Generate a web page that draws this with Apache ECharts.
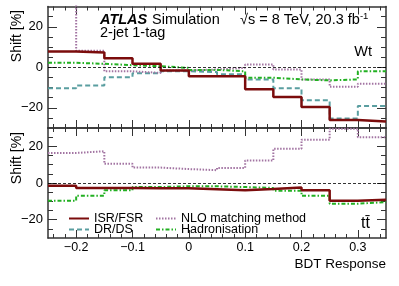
<!DOCTYPE html>
<html><head><meta charset="utf-8">
<script src="https://cdn.jsdelivr.net/npm/echarts@6/dist/echarts.min.js"></script>
<style>html,body{margin:0;padding:0;background:#fff}#c{width:399px;height:286px}</style>
</head><body><div id="c"></div>
<script>
// ---- data ----
const binEdges = [-0.25,-0.2,-0.15,-0.1,-0.05,0,0.05,0.1,0.15,0.2,0.25,0.3];
const xMax = 0.35;
// Wt panel
const wtISR  = [7.8, 7.3, 4.4, 1.7, -1.6, -4.4, -4.4, -10.9, -14.7, -19.6, -26.0, -26.8];
const wtDRDS = [-10.4, -9.0, -4.9, -3.0, -2.0, -2.4, -3.4, -6.0, -10.4, -16.3, -25.3, -19.1];
const wtNLO  = [45, 8.2, -2.0, -2.8, -1.6, -1.1, -0.3, 1.3, -1.1, -6.0, -9.6, -8.1];
const wtHad  = [2.2, 1.7, 1.0, 0.5, -0.3, -1.3, -2.0, -5.2, -6.0, -6.5, -6.0, -2.0];
// ttbar panel
const ttISR  = [-1.5, -2.7, -2.7, -2.9, -2.9, -3.4, -4.0, -3.3, -2.4, -4.0, -9.7, -9.1];
const ttNLO  = [16.4, 17.3, 10.5, 8.4, 7.6, 7.0, 8.2, 12.3, 18.7, 23.6, 29.6, 25.0];
const ttHad  = [-9.7, -6.9, -4.0, -2.2, -1.8, -1.8, -2.2, -2.7, -4.2, -6.9, -11.3, -10.4];
// ticks
const xMajorTicks = [-0.2, -0.1, 0, 0.1, 0.2, 0.3];
const xMinorTicks = [-0.24,-0.22,-0.18,-0.16,-0.14,-0.12,-0.08,-0.06,-0.04,-0.02,0.02,0.04,0.06,0.08,0.12,0.14,0.16,0.18,0.22,0.24,0.26,0.28,0.32,0.34];
const yMajorTicks = [-20, 0, 20];
const yMinorTicks = [-25, -15, -10, -5, 5, 10, 15, 25];

// ---- helpers ----
const FONT = 'Liberation Sans, Arial, Helvetica, sans-serif';
const AX = '#333';
const fmt = v => (v < 0 ? '\u2212' : '') + String(Math.abs(+v.toFixed(2)));
function steps(vals) {
  const d = binEdges.map((x, i) => [x, vals[i]]);
  d.push([xMax, vals[vals.length - 1]]);
  return d;
}
function xAxesFor(g, labels) {
  const base = {type:'value', gridIndex:g, min:-0.25, max:0.35, splitLine:{show:false}};
  return [
    Object.assign({}, base, {position:'bottom', axisLine:{show:true, onZero:false, lineStyle:{color:AX, width:1.5}},
      axisTick:{show:true, inside:true, length:8, customValues:xMajorTicks, lineStyle:{color:AX}},
      axisLabel:{show:labels, customValues:xMajorTicks, formatter:fmt, margin:3, fontSize:12.5, color:'#000', fontFamily:FONT}}),
    Object.assign({}, base, {position:'bottom', axisLine:{show:false, onZero:false},
      axisTick:{show:true, inside:true, length:4, customValues:xMinorTicks, lineStyle:{color:AX}}, axisLabel:{show:false}}),
    Object.assign({}, base, {position:'top', axisLine:{show:true, onZero:false, lineStyle:{color:AX, width:1.5}},
      axisTick:{show:true, inside:true, length:8, customValues:xMajorTicks, lineStyle:{color:AX}}, axisLabel:{show:false}}),
    Object.assign({}, base, {position:'top', axisLine:{show:false, onZero:false},
      axisTick:{show:true, inside:true, length:4, customValues:xMinorTicks, lineStyle:{color:AX}}, axisLabel:{show:false}})
  ];
}
function yAxesFor(g) {
  const base = {type:'value', gridIndex:g, min:-30, max:30, splitLine:{show:false}};
  return [
    Object.assign({}, base, {position:'left', axisLine:{show:true, onZero:false, lineStyle:{color:AX, width:1.5}},
      axisTick:{show:true, inside:true, length:9, customValues:yMajorTicks, lineStyle:{color:AX}},
      axisLabel:{show:true, customValues:yMajorTicks, formatter:fmt, margin:5, fontSize:13, color:'#000', fontFamily:FONT}}),
    Object.assign({}, base, {position:'left', axisLine:{show:false, onZero:false},
      axisTick:{show:true, inside:true, length:5, customValues:yMinorTicks, lineStyle:{color:AX}}, axisLabel:{show:false}}),
    Object.assign({}, base, {position:'right', axisLine:{show:true, onZero:false, lineStyle:{color:AX, width:1.5}},
      axisTick:{show:true, inside:true, length:9, customValues:yMajorTicks, lineStyle:{color:AX}}, axisLabel:{show:false}}),
    Object.assign({}, base, {position:'right', axisLine:{show:false, onZero:false},
      axisTick:{show:true, inside:true, length:5, customValues:yMinorTicks, lineStyle:{color:AX}}, axisLabel:{show:false}})
  ];
}
const styles = {
  'ISR/FSR': {color:'#7b0c0c', width:2.5, type:'solid'},
  'DR/DS': {color:'#5a9ea0', width:2, type:[5,3]},
  'NLO matching method': {color:'#a274a2', width:2, type:[1.5,1.5]},
  'Hadronisation': {color:'#22b022', width:2, type:[4,2,1.5,2]}
};
function mkSeries(name, vals, axIdx, zeroLine) {
  const st = styles[name];
  const s = {
    name, type:'line', step:'end', symbol:'none', showSymbol:false, clip:true, silent:true,
    xAxisIndex:axIdx, yAxisIndex:axIdx, data:steps(vals),
    itemStyle:{color:st.color}, lineStyle:{color:st.color, width:st.width, type:st.type}
  };
  if (zeroLine) {
    s.markLine = {silent:true, symbol:'none', label:{show:false},
      lineStyle:{color:'#000', width:0.8, type:[3,2]}, data:[{yAxis:0}]};
  }
  return s;
}
const legendCommon = {orient:'vertical', top:207, itemWidth:20, itemHeight:8, itemGap:-2,
  itemStyle:{color:'rgba(0,0,0,0)', borderColor:'rgba(0,0,0,0)', borderWidth:0, opacity:0},
  selectedMode:false, textStyle:{fontSize:12.5, lineHeight:12, color:'#000', fontFamily:FONT}};

const chart = echarts.init(document.getElementById('c'), null, {renderer:'canvas'});
chart.setOption({
  animation:false,
  backgroundColor:'#fff',
  textStyle:{fontFamily:FONT},
  grid:[
    {left:48, right:13, top:6.5, height:121.5},
    {left:48, right:13, top:128, height:110}
  ],
  xAxis: xAxesFor(0, false).concat(xAxesFor(1, true)),
  yAxis: yAxesFor(0).concat(yAxesFor(1)),
  legend:[
    Object.assign({data:['ISR/FSR','DR/DS'], left:63}, legendCommon),
    Object.assign({data:['NLO matching method','Hadronisation'], left:150}, legendCommon)
  ],
  series:[
    mkSeries('DR/DS', wtDRDS, 0, true),
    mkSeries('NLO matching method', wtNLO, 0, false),
    mkSeries('Hadronisation', wtHad, 0, false),
    mkSeries('ISR/FSR', wtISR, 0, false),
    mkSeries('NLO matching method', ttNLO, 4, true),
    mkSeries('Hadronisation', ttHad, 4, false),
    mkSeries('ISR/FSR', ttISR, 4, false)
  ],
  graphic:[
    {type:'text', x:100, y:20, style:{text:'ATLAS', font:'italic bold 14.5px ' + FONT, fill:'#000', verticalAlign:'middle'}},
    {type:'text', x:152, y:20, style:{text:'Simulation', font:'14.5px ' + FONT, fill:'#000', verticalAlign:'middle'}},
    {type:'text', x:240, y:20, style:{text:'{a|\u221As = 8 TeV, 20.3 fb}{b|-1}', verticalAlign:'middle', fill:'#000',
      rich:{a:{fontSize:14.5, fontFamily:FONT, fill:'#000'}, b:{fontSize:9.5, fontFamily:FONT, fill:'#000', verticalAlign:'top', padding:[0,0,8,0]}}}},
    {type:'text', x:100, y:33, style:{text:'2-jet 1-tag', font:'14.5px ' + FONT, fill:'#000', verticalAlign:'middle'}},
    {type:'text', x:372, y:52, style:{text:'Wt', font:'14.5px ' + FONT, fill:'#000', align:'right', verticalAlign:'middle'}},
    {type:'text', x:370, y:224, style:{text:'tt\u0304', font:'16px ' + FONT, fill:'#000', align:'right', verticalAlign:'middle'}},
    {type:'text', x:386, y:264, style:{text:'BDT Response', font:'13.5px ' + FONT, fill:'#000', align:'right', verticalAlign:'middle'}},
    {type:'text', x:17, y:10, rotation:Math.PI/2, style:{text:'Shift [%]', font:'14px ' + FONT, fill:'#000', align:'right', verticalAlign:'middle'}},
    {type:'text', x:17, y:132, rotation:Math.PI/2, style:{text:'Shift [%]', font:'14px ' + FONT, fill:'#000', align:'right', verticalAlign:'middle'}}
  ]
});
</script></body></html>
